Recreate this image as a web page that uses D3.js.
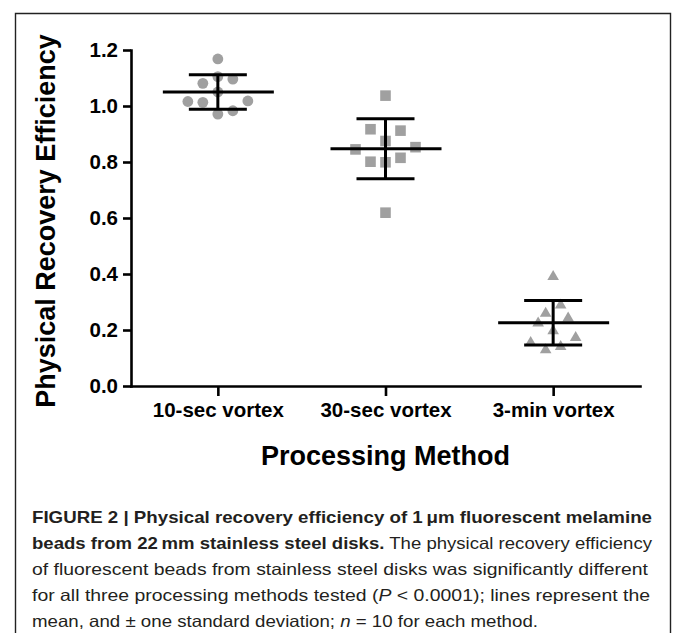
<!DOCTYPE html>
<html>
<head>
<meta charset="utf-8">
<script src="https://cdn.jsdelivr.net/npm/d3@7"></script>
<style>
  html, body { margin: 0; padding: 0; background: #fff; }
  svg { display: block; }
  text { font-family: "Liberation Sans", Arial, Helvetica, sans-serif; }
</style>
</head>
<body>
<svg id="chart" width="673" height="633"></svg>
<script>
// ---------------- data ----------------
const categories = ["10-sec vortex", "30-sec vortex", "3-min vortex"];
const vortex10sec = [1.168, 1.105, 1.050, 0.971, 1.096, 1.081, 0.983, 1.013, 1.018, 1.016];
const vortex30sec = [1.037, 0.875, 0.799, 0.619, 0.912, 0.917, 0.815, 0.801, 0.853, 0.845];
const vortex3min  = [0.396, 0.203, 0.295, 0.265, 0.248, 0.230, 0.146, 0.135, 0.179, 0.161];
const yTicks = [0.0, 0.2, 0.4, 0.6, 0.8, 1.0, 1.2];
const yTitle = "Physical Recovery Efficiency";
const xTitle = "Processing Method";

// ---------------- styles ----------------
const groupStyle = [
  { symbol: "circle",   step: 15,  gap: 15 },
  { symbol: "square",   step: 15,  gap: 15 },
  { symbol: "triangle", step: 7.5, gap: 30 }
];
const markerColor = "#a0a0a0";

const svg = d3.select("#chart");

// frame
const frame = svg.append("g").attr("stroke", "#222").attr("stroke-width", 1.4).attr("fill", "none");
frame.append("path").attr("d", "M15.5,640 V13.5 H670.5 V640");

// scales
const y = d3.scaleLinear().domain([0, 1.2]).range([386, 50]);
const x = d3.scalePoint().domain(categories).range([131, 640]).padding(0.518);

// y axis
const yAxis = svg.append("g")
  .attr("transform", "translate(131,0)")
  .call(d3.axisLeft(y).tickValues(yTicks).tickFormat(d3.format(".1f")).tickSize(8).tickSizeOuter(0).tickPadding(5));
// x axis
const xAxis = svg.append("g")
  .attr("transform", "translate(0,386)")
  .call(d3.axisBottom(x).tickSize(10).tickSizeOuter(0).tickPadding(6));

[yAxis, xAxis].forEach(g => {
  g.select(".domain").attr("stroke", "#000").attr("stroke-width", 2.6).attr("stroke-linecap", "square");
  g.selectAll(".tick line").attr("stroke", "#000").attr("stroke-width", 2.6);
  g.selectAll(".tick text")
    .attr("fill", "#000")
    .style("font-family", "'Liberation Sans', Arial, sans-serif")
    .style("font-weight", "bold")
    .style("font-size", "20.5px");
});

// axis titles
svg.append("text")
  .attr("transform", `translate(55,${(y(0) + y(1.2)) / 2 + 3}) rotate(-90)`)
  .attr("text-anchor", "middle")
  .style("font-weight", "bold")
  .style("font-size", "27px")
  .attr("fill", "#000")
  .text(yTitle);

svg.append("text")
  .attr("x", (x.range()[0] + x.range()[1]) / 2)
  .attr("y", 465)
  .attr("text-anchor", "middle")
  .style("font-weight", "bold")
  .style("font-size", "27px")
  .attr("fill", "#000")
  .text(xTitle);

// swarm layout (column based, in pixel space)
function swarm(values, step, gap) {
  const placed = [];
  const cands = [0, 1, -1, 2, -2, 3, -3, 4, -4, 5, -5, 6, -6];
  return values.map(v => {
    const py = y(v);
    for (const c of cands) {
      if (!placed.some(p => p.c === c && Math.abs(p.py - py) < gap)) {
        placed.push({ c, py });
        return { v, py, dx: c * step };
      }
    }
    return { v, py, dx: 0 };
  });
}

function symbolPath(kind) {
  if (kind === "circle") {
    const r = 5.4;
    return `M${-r},0A${r},${r} 0 1,0 ${r},0A${r},${r} 0 1,0 ${-r},0Z`;
  }
  if (kind === "square") {
    const h = 5.3;
    return `M${-h},${-h}H${h}V${h}H${-h}Z`;
  }
  const w = 5.8, hh = 5;
  return `M0,${-hh}L${w},${hh}H${-w}Z`;
}

const series = [vortex10sec, vortex30sec, vortex3min];
const points = svg.append("g");
series.forEach((vals, i) => {
  const cx = x(categories[i]);
  const st = groupStyle[i];
  const laid = swarm(vals, st.step, st.gap);
  points.selectAll(null).data(laid).enter().append("path")
    .attr("d", symbolPath(st.symbol))
    .attr("transform", d => `translate(${cx + d.dx},${d.py})`)
    .attr("fill", markerColor);
});

// mean and SD lines
const stats = series.map((vals, i) => ({
  cat: categories[i],
  mean: d3.mean(vals),
  sd: d3.deviation(vals)
}));
const lines = svg.append("g").attr("stroke", "#000").attr("stroke-width", 3).attr("fill", "none");
stats.forEach(s => {
  const cx = x(s.cat);
  lines.append("line").attr("x1", cx - 55).attr("x2", cx + 56).attr("y1", y(s.mean)).attr("y2", y(s.mean));
  lines.append("line").attr("x1", cx - 29).attr("x2", cx + 29).attr("y1", y(s.mean + s.sd)).attr("y2", y(s.mean + s.sd));
  lines.append("line").attr("x1", cx - 29).attr("x2", cx + 29).attr("y1", y(s.mean - s.sd)).attr("y2", y(s.mean - s.sd));
  lines.append("line").attr("x1", cx).attr("x2", cx).attr("y1", y(s.mean + s.sd)).attr("y2", y(s.mean - s.sd));
});

// caption
const cap = svg.append("g").attr("fill", "#231f20").style("font-size", "16.5px");
function capLine(yy, parts, len) {
  const t = cap.append("text").attr("x", 32).attr("y", yy)
    .attr("textLength", len).attr("lengthAdjust", "spacingAndGlyphs");
  parts.forEach(p => {
    const ts = t.append("tspan").text(p.t);
    if (p.b) ts.style("font-weight", "bold");
    if (p.i) ts.style("font-style", "italic");
  });
}
capLine(523, [{ t: "FIGURE 2 | Physical recovery efficiency of 1\u2009\u03bcm fluorescent melamine", b: true }], 620);
capLine(549, [{ t: "beads from 22\u2009mm stainless steel disks.", b: true }, { t: " The physical recovery efficiency" }], 620);
capLine(575, [{ t: "of fluorescent beads from stainless steel disks was significantly different" }], 616);
capLine(601, [{ t: "for all three processing methods tested (" }, { t: "P", i: true }, { t: " < 0.0001); lines represent the" }], 618);
capLine(627, [{ t: "mean, and \u00b1 one standard deviation; " }, { t: "n", i: true }, { t: " = 10 for each method." }], 506);
</script>
</body>
</html>
